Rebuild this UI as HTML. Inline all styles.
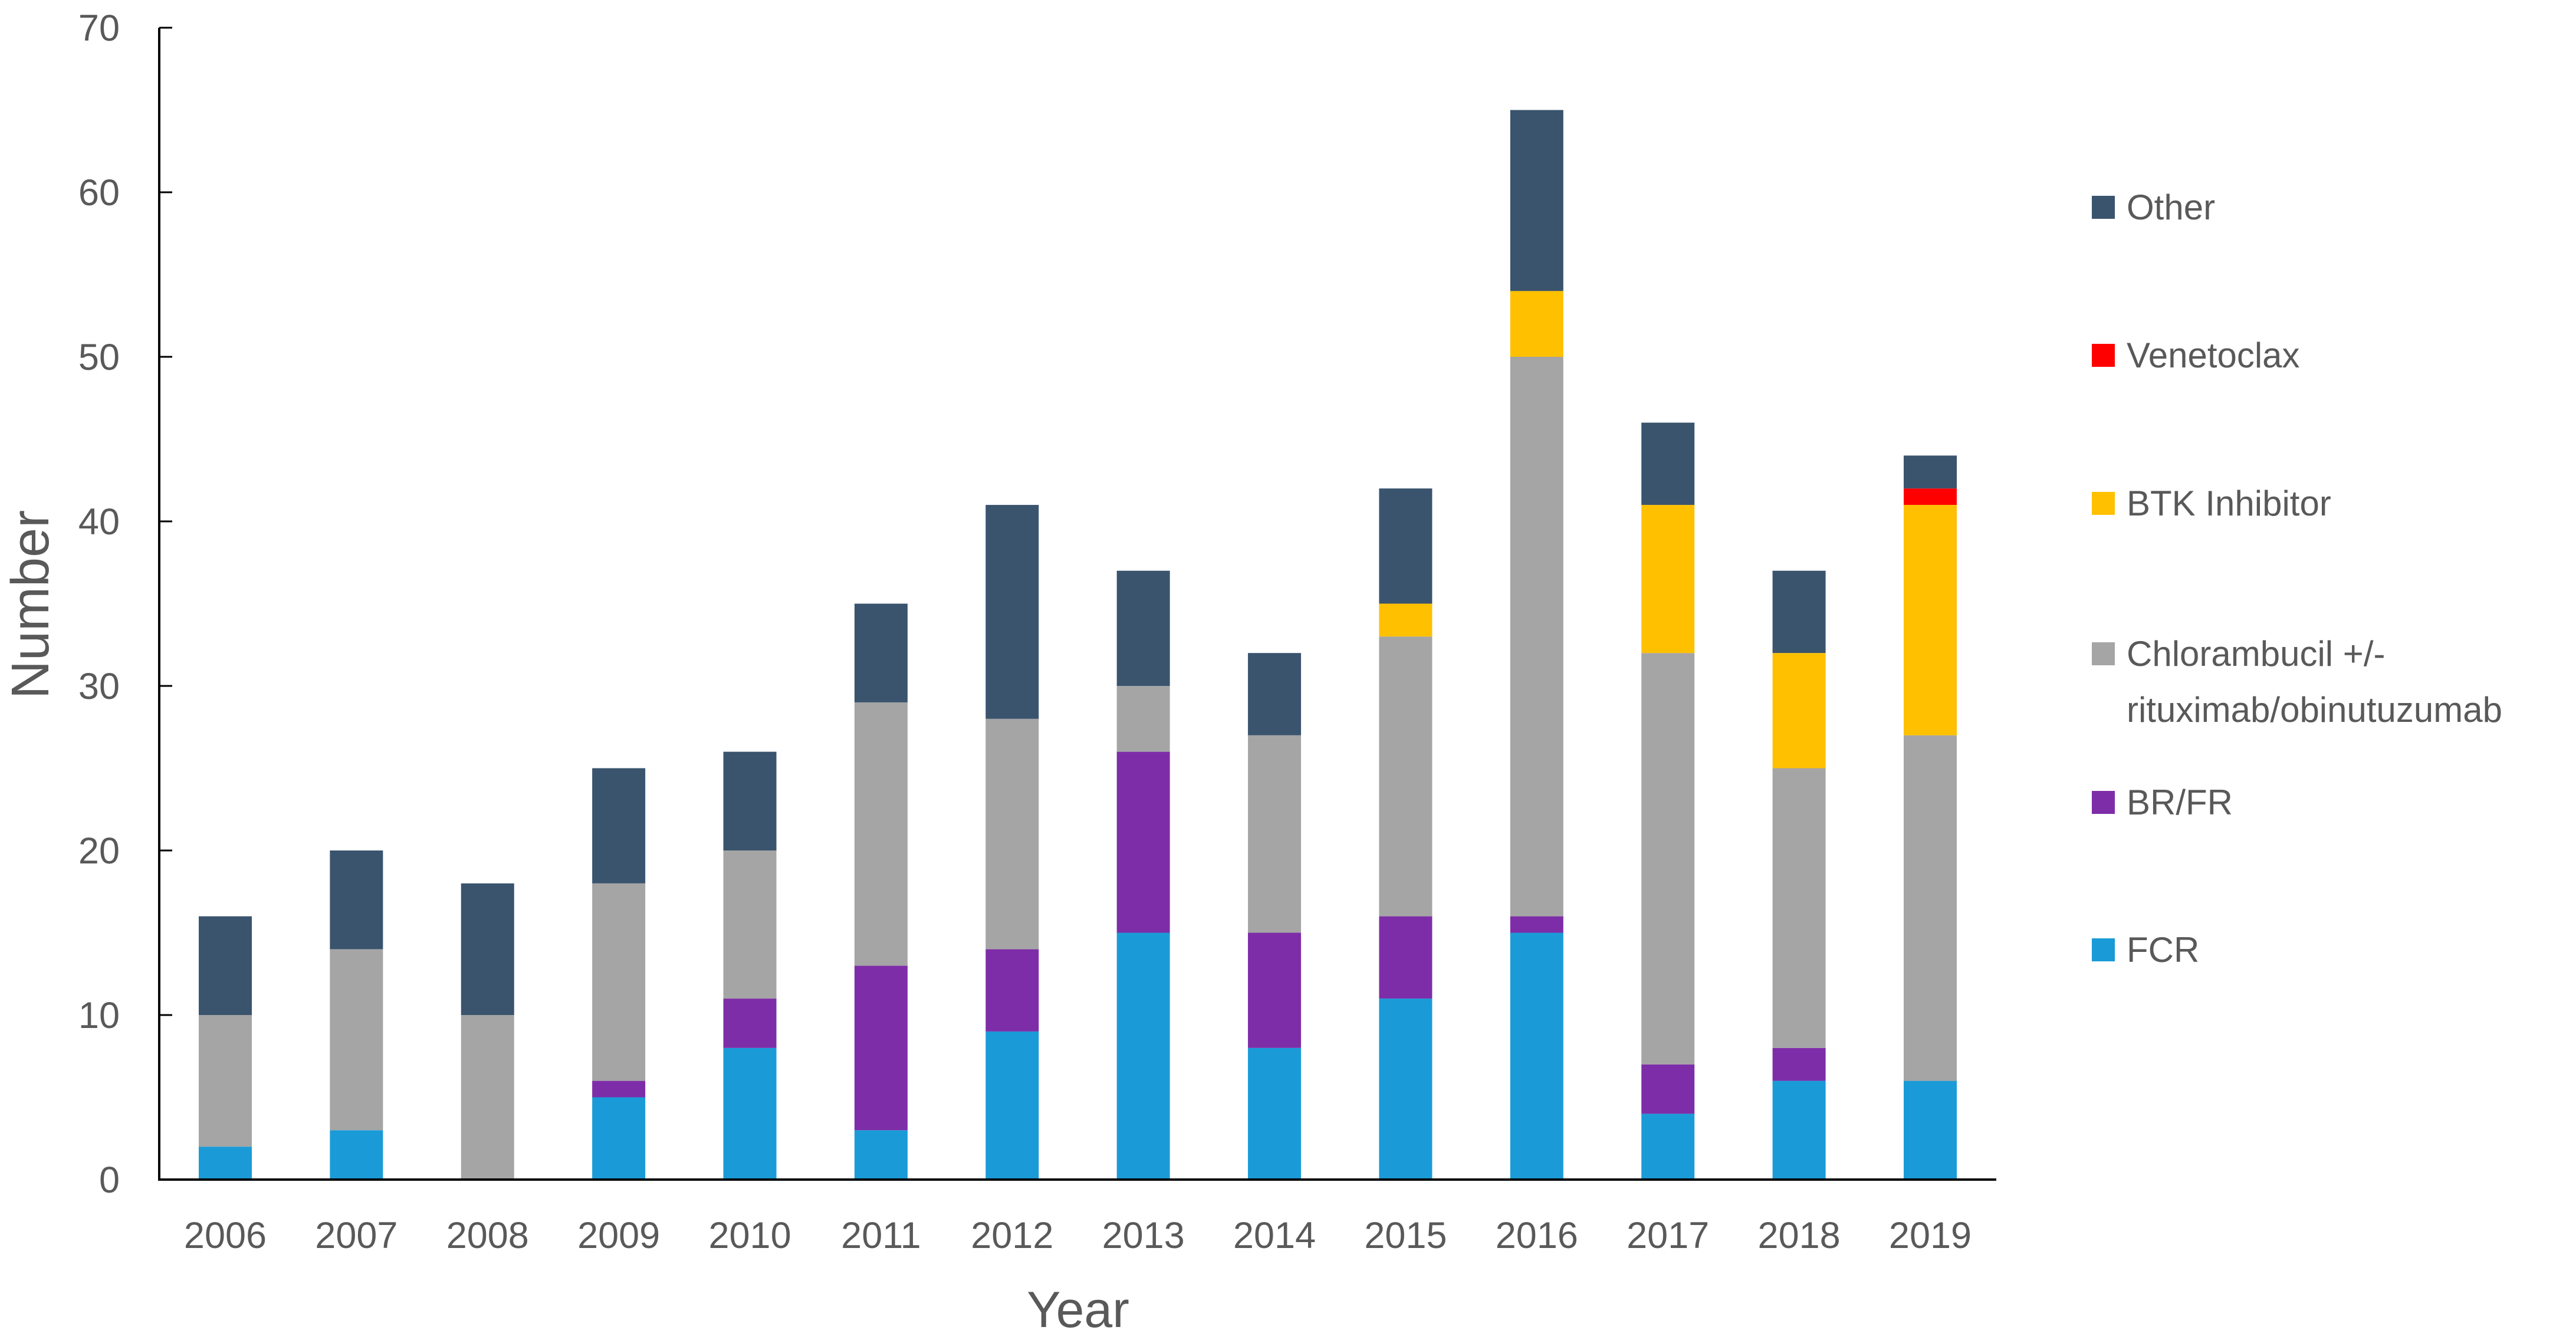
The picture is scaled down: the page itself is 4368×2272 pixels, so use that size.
<!DOCTYPE html>
<html><head><meta charset="utf-8"><style>
html,body{margin:0;padding:0;background:#fff;}
svg{display:block;font-family:"Liberation Sans",sans-serif;}
</style></head><body>
<svg id="chart" width="4368" height="2272" viewBox="0 0 4368 2272"></svg>
<script>
const years = ["2006","2007","2008","2009","2010","2011","2012","2013","2014","2015","2016","2017","2018","2019"];
const fcr = [2,3,0,5,8,3,9,15,8,11,15,4,6,6];
const brfr = [0,0,0,1,3,10,5,11,7,5,1,3,2,0];
const chlor = [8,11,10,12,9,16,14,4,12,17,34,25,17,21];
const btk = [0,0,0,0,0,0,0,0,0,2,4,9,7,14];
const veneto = [0,0,0,0,0,0,0,0,0,0,0,0,0,1];
const other = [6,6,8,7,6,6,13,7,5,7,11,5,5,2];
const yTicks = [0,10,20,30,40,50,60,70];
const seriesNames = ["FCR","BR/FR","Chlorambucil","BTK Inhibitor","Venetoclax","Other"];
const seriesVals = [fcr,brfr,chlor,btk,veneto,other];
const seriesColors = ["#1A9BD7","#7E2DA8","#A5A5A5","#FFC000","#FF0000","#3A546E"];

const NS="http://www.w3.org/2000/svg";
const svg=document.getElementById('chart');
const X0=270, X1=3385, Y0=2000, YTOP=47, YMAX=70;
const step=(3273-382)/13, bw=90;
function y(v){return Y0-(Y0-YTOP)*v/YMAX;}
function xc(i){return 382+i*step;}
function mk(tag,attrs){const e=document.createElementNS(NS,tag);for(const k in attrs)e.setAttribute(k,attrs[k]);svg.appendChild(e);return e;}

years.forEach((yr,i)=>{
  let base=0;
  seriesVals.forEach((arr,s)=>{
    const v=arr[i]; if(!v){return;}
    const r=mk('rect',{x:xc(i)-bw/2,y:y(base+v),width:bw,height:y(base)-y(base+v),fill:seriesColors[s]});
    
    
    base+=v;
  });
  const t=mk('text',{x:xc(i),y:2116,'font-size':63,fill:'#595959','text-anchor':'middle'});
  t.textContent=yr;
  
  
});
yTicks.forEach(v=>{
  const l=mk('line',{x1:X0,x2:X0+22,y1:y(v),y2:y(v),stroke:'#000','stroke-width':3});
  
  
  const t=mk('text',{x:203,y:y(v)+22,'font-size':63,fill:'#595959','text-anchor':'end'});
  t.textContent=v;
  
  
});
const ya=mk('line',{x1:X0,x2:X0,y1:YTOP,y2:Y0+2,stroke:'#000','stroke-width':4});


const xa=mk('line',{x1:X0-2,x2:X1,y1:Y0,y2:Y0,stroke:'#000','stroke-width':4});


const yt=mk('text',{x:0,y:0,'font-size':90,fill:'#595959','text-anchor':'middle',transform:'translate(82,1025) rotate(-90)'});
yt.textContent='Number';


const xt=mk('text',{x:1828,y:2250,'font-size':86,fill:'#595959','text-anchor':'middle'});
xt.textContent='Year';


const legRows=[
 {name:'Other',c:5,y:351,lines:['Other']},
 {name:'Venetoclax',c:4,y:602,lines:['Venetoclax']},
 {name:'BTK Inhibitor',c:3,y:853,lines:['BTK Inhibitor']},
 {name:'Chlorambucil',c:2,y:1108,lines:['Chlorambucil +/-','rituximab/obinutuzumab']},
 {name:'BR/FR',c:1,y:1360,lines:['BR/FR']},
 {name:'FCR',c:0,y:1610,lines:['FCR']}
];
legRows.forEach(r=>{
  const sq=mk('rect',{x:3547,y:r.y-19,width:39,height:39,fill:seriesColors[r.c]});
  
  
  r.lines.forEach((ln,k)=>{
    const t=mk('text',{x:3606,y:r.y+21+k*95,'font-size':60,fill:'#595959'});
    t.textContent=ln;
    
    
  });
});
</script>
</body></html>
